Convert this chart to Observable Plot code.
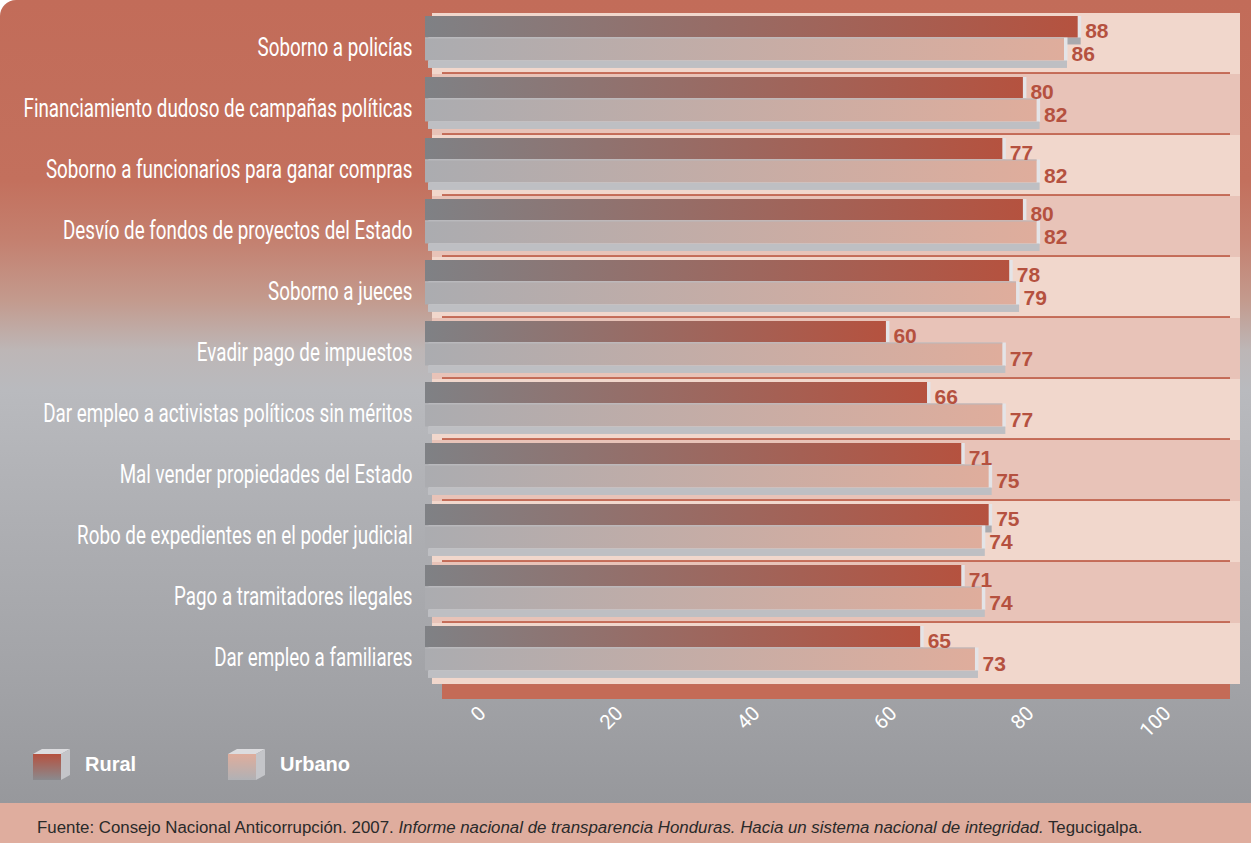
<!DOCTYPE html>
<html><head><meta charset="utf-8">
<script src="https://cdn.jsdelivr.net/npm/d3@7"></script>
<script src="https://cdn.jsdelivr.net/npm/@observablehq/plot@0.6"></script>
<style>
html,body{margin:0;padding:0;background:#fff;}
body{width:1251px;height:843px;overflow:hidden;font-family:"Liberation Sans",Arial,sans-serif;}
#panel{position:relative;width:1251px;height:803px;border-top-left-radius:16px;overflow:hidden;
 background:linear-gradient(to bottom,#c26c59 0px,#c3705d 180px,#c4806f 240px,#c39a8d 300px,#bdb6b6 350px,#b9babe 390px,#aeafb3 520px,#a2a3a7 680px,#97989c 803px);}
#chart svg{display:block;}
#legend{position:absolute;left:33px;top:748px;height:36px;}
.item{position:absolute;top:0;display:flex;align-items:center;}
.item span{color:#fff;font-weight:bold;font-size:20px;font-family:"Liberation Sans",Arial,sans-serif;margin-left:14px;}
#footer{height:40px;box-sizing:border-box;padding-top:5px;background:#dfad9e;color:#2a2a2a;font-size:16.85px;font-family:"Liberation Sans",Arial,sans-serif;line-height:40px;padding-left:37px;white-space:nowrap;overflow:hidden;}
</style></head><body>
<div id="panel"><div id="chart"></div><div id="legend"></div></div>
<div id="footer"></div>
<script>
const categories = [
  "Soborno a policías",
  "Financiamiento dudoso de campañas políticas",
  "Soborno a funcionarios para ganar compras",
  "Desvío de fondos de proyectos del Estado",
  "Soborno a jueces",
  "Evadir pago de impuestos",
  "Dar empleo a activistas políticos sin méritos",
  "Mal vender propiedades del Estado",
  "Robo de expedientes en el poder judicial",
  "Pago a tramitadores ilegales",
  "Dar empleo a familiares"
];
const rural  = [88, 80, 77, 80, 78, 60, 66, 71, 75, 71, 65];
const urbano = [86, 82, 82, 82, 79, 77, 77, 75, 74, 74, 73];
const seriesNames = ["Rural", "Urbano"];
const xTicks = [0, 20, 40, 60, 80, 100];
const sourceText = "Fuente: Consejo Nacional Anticorrupción. 2007. ";
const sourceItalic = "Informe nacional de transparencia Honduras. Hacia un sistema nacional de integridad.";
const sourceEnd = " Tegucigalpa.";

const rows = categories.map((c, i) => ({cat: c, idx: i, rural: rural[i], urbano: urbano[i]}));
const xMin = -7.3, xMax = 111.7;
const H = 740, mTop = 13, mBottom = 55.5;
const bw = (H - mTop - mBottom) / categories.length;
const labelRed = "#b5513f";
const frameRed = "#c46b57";
const catLabelWidth = 389; // width of the longest category label in the reference

const svg = Plot.plot({
  width: 1251, height: H,
  marginTop: mTop, marginBottom: mBottom, marginLeft: 425, marginRight: 11,
  style: {background: "transparent", overflow: "visible"},
  x: {domain: [xMin, xMax]},
  y: {domain: categories, padding: 0},
  marks: [
    Plot.barX(rows, {y: "cat", x1: () => xMin, x2: () => xMax, insetLeft: 7,
      fill: d => d.idx % 2 ? "#e8c3b8" : "#f1d7cc"}),
    Plot.barX(rows.filter(d => d.idx < categories.length - 1), {y: "cat", x1: () => xMin, x2: () => xMax,
      insetLeft: 17, insetRight: 10, insetTop: bw - 2, fill: frameRed}),
    Plot.barX(rows.filter(d => d.idx === categories.length - 1), {y: "cat", x1: () => xMin, x2: () => xMax,
      insetLeft: 17, insetRight: 10, insetTop: bw - 15, dy: 15, fill: frameRed}),
    Plot.barX(rows, {y: "cat", x1: () => xMin, x2: "rural", insetTop: 3, insetBottom: bw - 25, dx: 3.5, fill: "#e4e4e7"}),
    Plot.barX(rows, {y: "cat", x1: () => xMin, x2: "rural", insetTop: 24.5, insetBottom: bw - 31.5, dx: 3, fill: "#a9aaae"}),
    Plot.barX(rows, {y: "cat", x1: () => xMin, x2: "rural", insetTop: 3, insetBottom: bw - 24.5, fill: "url(#gRural)"}),
    Plot.barX(rows, {y: "cat", x1: () => xMin, x2: "urbano", insetTop: 24.5, insetBottom: bw - 48, dx: 3.5, fill: "#e4e4e7"}),
    Plot.barX(rows, {y: "cat", x1: () => xMin, x2: "urbano", insetTop: 47.5, insetBottom: bw - 55, dx: 3, fill: "#bebfc3"}),
    Plot.barX(rows, {y: "cat", x1: () => xMin, x2: "urbano", insetTop: 24.5, insetBottom: bw - 47.5, fill: "url(#gUrbano)"}),
    Plot.barX(rows, {y: "cat", x1: () => xMin, x2: "urbano", insetTop: 24.5, insetBottom: bw - 25.5, fill: "#b9b9bd"}),
    Plot.text(rows, {y: "cat", x: "rural", text: d => String(d.rural), dx: 7, dy: -6.5,
      textAnchor: "start", lineAnchor: "bottom", fill: labelRed, fontWeight: "bold", fontSize: 21,
      fontFamily: "Liberation Sans, Arial, sans-serif"}),
    Plot.text(rows, {y: "cat", x: "urbano", text: d => String(d.urbano), dx: 7, dy: 16.5,
      textAnchor: "start", lineAnchor: "bottom", fill: labelRed, fontWeight: "bold", fontSize: 21,
      fontFamily: "Liberation Sans, Arial, sans-serif"}),
    Plot.axisY({anchor: "left", tickSize: 0, tickPadding: 13, label: null, color: "white",
      fontSize: 25, fontFamily: "Roboto, sans-serif", dy: 3.5}),
    Plot.axisX({anchor: "bottom", ticks: xTicks, tickSize: 0, tickPadding: 25, tickRotate: -45,
      label: null, color: "white", fontSize: 20, fontFamily: "Roboto, sans-serif", fontWeight: 400, dx: 7})
  ]
});

svg.insertAdjacentHTML("afterbegin",
  `<defs>
    <linearGradient id="gRural" x1="0" x2="1" y1="0" y2="0">
      <stop offset="0" stop-color="#7f8185"/><stop offset="1" stop-color="#b5523f"/>
    </linearGradient>
    <linearGradient id="gUrbano" x1="0" x2="1" y1="0" y2="0">
      <stop offset="0" stop-color="#abacb0"/><stop offset="1" stop-color="#dfad9c"/>
    </linearGradient>
  </defs>`);
document.getElementById("chart").appendChild(svg);

// condense the category labels horizontally (reference uses a condensed face)
{
  const g = svg.querySelector('g[aria-label="y-axis tick label"]');
  if (g) {
    const texts = Array.from(g.querySelectorAll("text"));
    const wraps = texts.map(t => {
      const w = document.createElementNS("http://www.w3.org/2000/svg", "g");
      t.parentNode.insertBefore(w, t);
      w.appendChild(t);
      return w;
    });
    const maxW = d3.max(wraps, w => w.getBBox().width);
    const s = catLabelWidth / maxW;
    wraps.forEach(w => {
      const b = w.getBBox();
      const R = b.x + b.width;
      w.setAttribute("transform", `translate(${R},0) scale(${s},1) translate(${-R},0)`);
    });
  }
}

// legend
const legendFaces = [["#b5513f", "#8a8a8e"], ["#dfad9c", "#b0b1b5"]];
const legendX = [0, 195];
const legend = document.getElementById("legend");
seriesNames.forEach((name, i) => {
  const [top, bottom] = legendFaces[i];
  const div = document.createElement("div");
  div.className = "item";
  div.style.left = legendX[i] + "px";
  div.innerHTML = `<svg width="38" height="33" viewBox="0 0 38 33">
     <defs><linearGradient id="lg${i}" x1="0" x2="0" y1="0" y2="1">
       <stop offset="0" stop-color="${top}"/><stop offset="1" stop-color="${bottom}"/></linearGradient></defs>
     <polygon points="0,6 9,1 37,1 28,6" fill="#dcdcdf"/>
     <polygon points="28,6 37,1 37,27 28,32" fill="#c4c5c9"/>
     <rect x="0" y="6" width="28" height="26" fill="url(#lg${i})"/>
   </svg><span>${name}</span>`;
  legend.appendChild(div);
});

const footer = document.getElementById("footer");
footer.append(sourceText);
const em = document.createElement("i");
em.textContent = sourceItalic;
footer.append(em);
footer.append(sourceEnd);
</script>
</body></html>
